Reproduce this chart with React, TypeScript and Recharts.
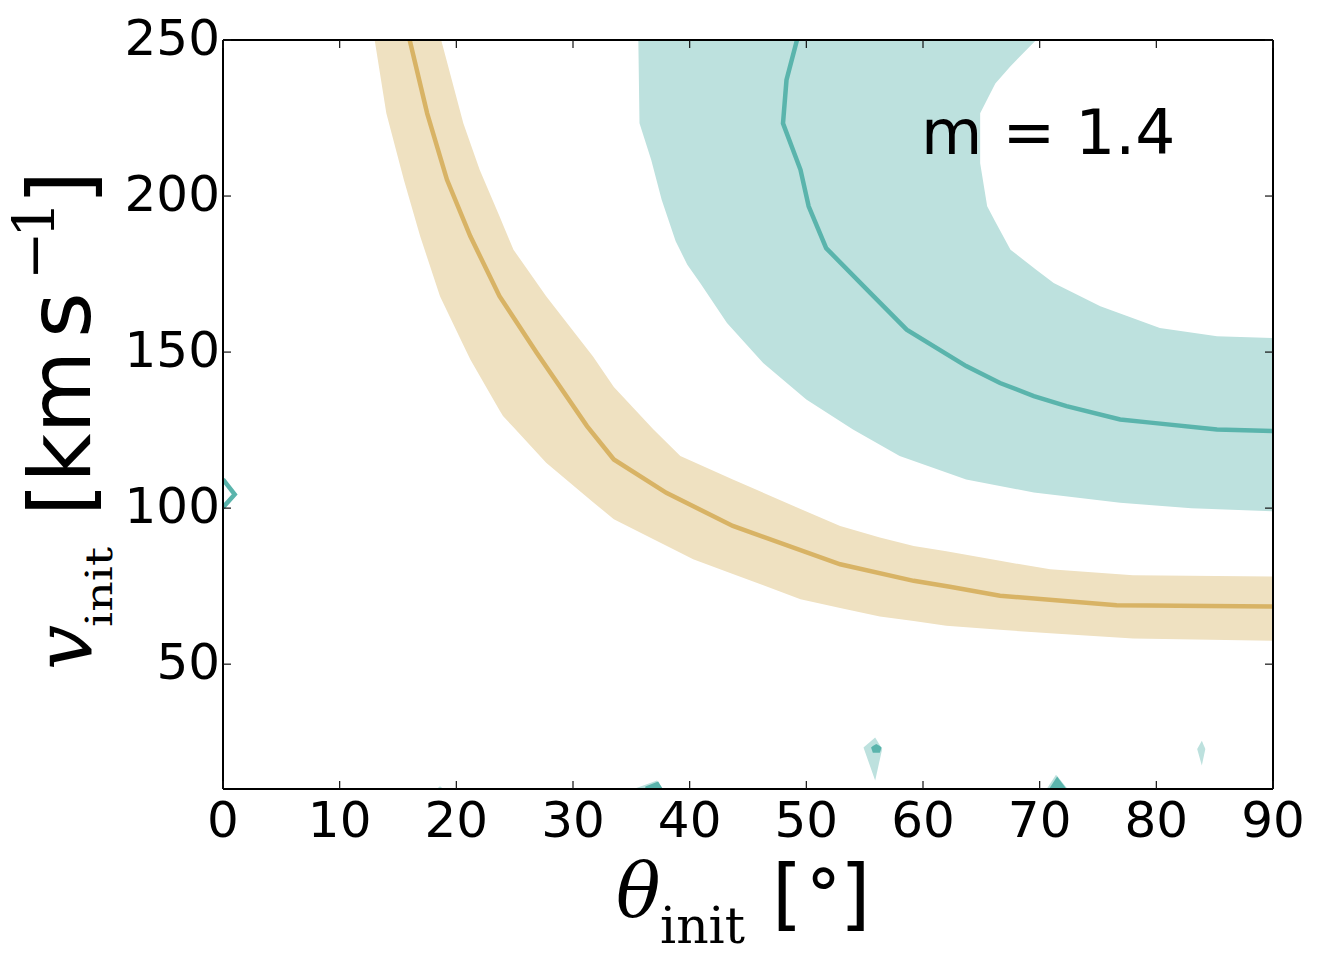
import React from 'react';
import { ComposedChart, Area, Line, XAxis, YAxis } from 'recharts';

const W = 1319;
const H = 962;
const TEAL = '#5ab4ac';
const TEAL_FILL = '#bde1de';
const TAN = '#d8b365';
const TAN_FILL = '#efe1c1';

const thetaTicks = [0, 10, 20, 30, 40, 50, 60, 70, 80, 90];
const velocityTicks = [50, 100, 150, 200, 250];

// tan contour band
const tanBandTheta = [13.0, 14.0, 15.5, 16.9, 18.6, 18.7, 20.6, 21.2, 22.0, 23.7, 24.0, 24.9, 27.7, 31.7, 33.5, 36.9, 39.2, 40.3, 43.7, 49.5, 52.9, 56.3, 59.2, 62.0, 66.6, 70.9, 78.0, 90.0];
const tanBandLow = [250, 226.5, 205.2, 187.1, 167.9, 167.1, 152.3, 147.6, 142.4, 131.4, 129.5, 125.9, 114.5, 102.0, 96.4, 90.0, 85.7, 83.6, 78.9, 70.8, 68.0, 65.3, 63.8, 62.3, 61.0, 59.9, 58.2, 57.5];
const tanBandHigh = [250, 250, 250, 250, 250, 250, 223.3, 216.9, 208.4, 193.5, 190.8, 182.8, 167.9, 148.7, 138.8, 125.2, 116.7, 114.9, 109.2, 99.7, 94.3, 90.6, 87.9, 86.2, 83.1, 80.4, 78.5, 78.1];

// tan central contour line
const tanLineTheta = [16.0, 17.5, 19.2, 21.2, 23.7, 26.9, 31.2, 33.5, 38.0, 43.7, 52.9, 59.2, 62.3, 66.6, 76.6, 90.0];
const tanLineV = [250, 226.5, 205.2, 187.1, 167.9, 149.7, 126.3, 115.6, 104.9, 94.3, 82.0, 76.7, 74.8, 71.9, 68.9, 68.5];

// teal contour band (outer part)
const tealBandTheta = [35.6, 35.7, 36.7, 37.6, 38.8, 39.8, 40.9, 43.2, 46.3, 50.0, 54.0, 58.0, 63.7, 69.5, 76.9, 83.0, 90.0];
const tealBandLow = [250, 223.3, 211.6, 198.8, 185.5, 178.0, 172.1, 159.3, 146.5, 134.8, 125.2, 116.7, 109.2, 105.0, 101.7, 100.0, 99.0];
const tealBandHigh = [250, 250, 250, 250, 250, 250, 250, 250, 250, 250, 250, 250, 250, 250, 250, 250, 250];

// empty interior of the teal band
const tealHoleTheta = [64.9, 65.5, 66.2, 67.5, 69.7, 71.2, 75.2, 80.3, 85.2, 90.0];
const tealHoleLow = [210.5, 196.7, 191.8, 182.8, 176.4, 172.1, 164.7, 157.7, 155.1, 154.5];
const tealHoleHigh = [226.5, 230.9, 236.1, 241.6, 250, 250, 250, 250, 250, 250];

// teal central contour line
const tealLineTheta = [49.2, 48.3, 48.0, 49.5, 50.2, 51.7, 55.2, 58.6, 63.7, 66.6, 69.5, 72.3, 76.9, 79.5, 85.2, 90.0];
const tealLineV = [250, 237.2, 223.3, 208.4, 196.7, 183.3, 170.0, 157.2, 145.5, 140.1, 135.9, 132.7, 128.4, 127.4, 125.2, 124.7];

// small teal islands: [theta, low, high]
const islandA_light = [[54.9, 23.3, 23.3], [55.9, 12.7, 26.5], [56.5, 22.8, 22.8]];
const islandA_dark = [[55.55, 23.3, 23.3], [55.7, 21.6, 23.8], [56.0, 21.6, 24.4], [56.3, 21.6, 23.8], [56.45, 23.3, 23.3]];
const islandB_light = [[83.5, 22.8, 22.8], [83.9, 17.5, 25.5], [84.2, 22.8, 22.8]];
const islandC_light = [[70.6, 10, 10], [71.4, 10, 14.6], [72.4, 10, 10]];
const islandC_dark = [[70.8, 10, 10], [71.5, 10, 14.0], [72.3, 10, 10]];
const islandD_light = [[35.2, 10, 10], [37.2, 10, 12.7], [37.7, 10, 10]];
const islandD_dark = [[36.2, 10, 10.8], [37.3, 10, 12.4], [37.7, 10, 10]];
const islandE_light = [[18.3, 10, 10], [18.6, 10, 10.9], [18.9, 10, 10]];
const chevronTheta = [0, 1.0, 0];
const chevronV = [109.2, 104.4, 100.2];

const toBand = (t: number[], lo: number[], hi: number[]) => t.map((x, i) => ({ x, range: [lo[i], hi[i]] }));
const toLine = (t: number[], v: number[]) => t.map((x, i) => ({ x, v: v[i] }));
const islandBand = (b: number[][]) => b.map(([x, lo, hi]) => ({ x, range: [lo, hi] }));

const BottomTick = (props: any) => {
  const { x, y, payload } = props;
  return (
    <g>
      <line x1={x} y1={y} x2={x} y2={y - 8} stroke="#111" strokeWidth={1.2} />
      <text x={x} y={y + 48} textAnchor="middle" fontFamily="DejaVu Sans" fontSize={50} fill="#000">
        {payload.value}
      </text>
    </g>
  );
};
const TopTick = (props: any) => {
  const { x, y } = props;
  return <line x1={x} y1={y} x2={x} y2={y + 8} stroke="#111" strokeWidth={1.2} />;
};
const LeftTick = (props: any) => {
  const { x, y, payload } = props;
  return (
    <g>
      <line x1={x} y1={y} x2={x + 8} y2={y} stroke="#111" strokeWidth={1.2} />
      <text x={x - 3} y={y + 15} textAnchor="end" fontFamily="DejaVu Sans" fontSize={50} fill="#000">
        {payload.value}
      </text>
    </g>
  );
};
const RightTick = (props: any) => {
  const { x, y } = props;
  return <line x1={x} y1={y} x2={x - 8} y2={y} stroke="#111" strokeWidth={1.2} />;
};

const rot = (x: number, y: number) => `translate(${x},${y}) rotate(-90)`;

const Labels = () => (
  <g>
    <text x={921} y={154} fontFamily="DejaVu Sans" fontSize={63} fill="#000">m = 1.4</text>
    {/* x label */}
    <text x={616} y={916} fontFamily="DejaVu Serif" fontStyle="italic" fontSize={74} fill="#000">θ</text>
    <text x={660} y={943} fontFamily="DejaVu Serif" fontSize={50} fill="#000" textLength={85} lengthAdjust="spacingAndGlyphs">init</text>
    <text x={772} y={921} fontFamily="DejaVu Sans" fontSize={78} fill="#000">[</text>
    <text x={806} y={919} fontFamily="DejaVu Serif" fontSize={70} fill="#000">°</text>
    <text x={840} y={921} fontFamily="DejaVu Sans" fontSize={78} fill="#000">]</text>
    {/* y label */}
    <text transform={rot(92, 670)} fontFamily="DejaVu Serif" fontStyle="italic" fontSize={80} fill="#000">v</text>
    <text transform={rot(112, 627)} fontFamily="DejaVu Serif" fontSize={38} fill="#000" textLength={80} lengthAdjust="spacingAndGlyphs">init</text>
    <text transform={rot(90, 516)} fontFamily="DejaVu Sans" fontSize={85} fill="#000">[km</text>
    <text transform={rot(90, 338)} fontFamily="DejaVu Sans" fontSize={88} fill="#000">s</text>
    <text transform={rot(54, 280)} fontFamily="DejaVu Serif" fontSize={58} fill="#000">−</text>
    <text transform={rot(54, 238)} fontFamily="DejaVu Serif" fontSize={58} fill="#000">1</text>
    <text transform={rot(90, 205)} fontFamily="DejaVu Sans" fontSize={88} fill="#000">]</text>
  </g>
);

const areaCommon = {
  type: 'linear' as const,
  dataKey: 'range',
  stroke: 'none',
  fillOpacity: 1,
  isAnimationActive: false,
  dot: false,
  activeDot: false,
};

export default function App() {
  return (
    <div style={{ position: 'absolute', left: 0, top: 0, width: W, height: H, background: '#fff' }}>
      <ComposedChart width={W} height={H} margin={{ top: 0, right: 0, bottom: 0, left: 0 }}>
        <Area {...areaCommon} data={toBand(tanBandTheta, tanBandLow, tanBandHigh)} fill={TAN_FILL} />
        <Area {...areaCommon} data={toBand(tealBandTheta, tealBandLow, tealBandHigh)} fill={TEAL_FILL} />
        <Area {...areaCommon} data={toBand(tealHoleTheta, tealHoleLow, tealHoleHigh)} fill="#ffffff" />
        <Area {...areaCommon} data={islandBand(islandA_light)} fill={TEAL_FILL} />
        <Area {...areaCommon} data={islandBand(islandB_light)} fill={TEAL_FILL} />
        <Area {...areaCommon} data={islandBand(islandC_light)} fill={TEAL_FILL} />
        <Area {...areaCommon} data={islandBand(islandD_light)} fill={TEAL_FILL} />
        <Area {...areaCommon} data={islandBand(islandE_light)} fill={TEAL_FILL} />
        <Area {...areaCommon} data={islandBand(islandA_dark)} fill={TEAL} />
        <Area {...areaCommon} data={islandBand(islandC_dark)} fill={TEAL} />
        <Area {...areaCommon} data={islandBand(islandD_dark)} fill={TEAL} />
        <Line type="linear" data={toLine(tanLineTheta, tanLineV)} dataKey="v" stroke={TAN} strokeWidth={4.5} dot={false} activeDot={false} isAnimationActive={false} />
        <Line type="linear" data={toLine(tealLineTheta, tealLineV)} dataKey="v" stroke={TEAL} strokeWidth={4.5} dot={false} activeDot={false} isAnimationActive={false} />
        <Line type="linear" data={toLine(chevronTheta, chevronV)} dataKey="v" stroke={TEAL} strokeWidth={4.5} strokeLinejoin="miter" dot={false} activeDot={false} isAnimationActive={false} />
        <XAxis
          type="number"
          dataKey="x"
          domain={[0, 90]}
          ticks={thetaTicks}
          interval={0}
          allowDataOverflow
          height={173}
          tickSize={0}
          tickMargin={0}
          tickLine={false}
          axisLine={{ stroke: '#000', strokeWidth: 2 }}
          tick={<BottomTick />}
          label={<Labels />}
        />
        <XAxis
          xAxisId="top"
          orientation="top"
          type="number"
          dataKey="x"
          domain={[0, 90]}
          ticks={thetaTicks}
          interval={0}
          allowDataOverflow
          height={40}
          tickSize={0}
          tickMargin={0}
          tickLine={false}
          axisLine={{ stroke: '#000', strokeWidth: 2 }}
          tick={<TopTick />}
        />
        <YAxis
          type="number"
          domain={[10, 250]}
          ticks={velocityTicks}
          interval={0}
          allowDataOverflow
          width={223}
          tickSize={0}
          tickMargin={0}
          tickLine={false}
          axisLine={{ stroke: '#000', strokeWidth: 2 }}
          tick={<LeftTick />}
        />
        <YAxis
          yAxisId="right"
          orientation="right"
          type="number"
          domain={[10, 250]}
          ticks={velocityTicks}
          interval={0}
          allowDataOverflow
          width={46}
          tickSize={0}
          tickMargin={0}
          tickLine={false}
          axisLine={{ stroke: '#000', strokeWidth: 2 }}
          tick={<RightTick />}
        />
      </ComposedChart>
    </div>
  );
}
